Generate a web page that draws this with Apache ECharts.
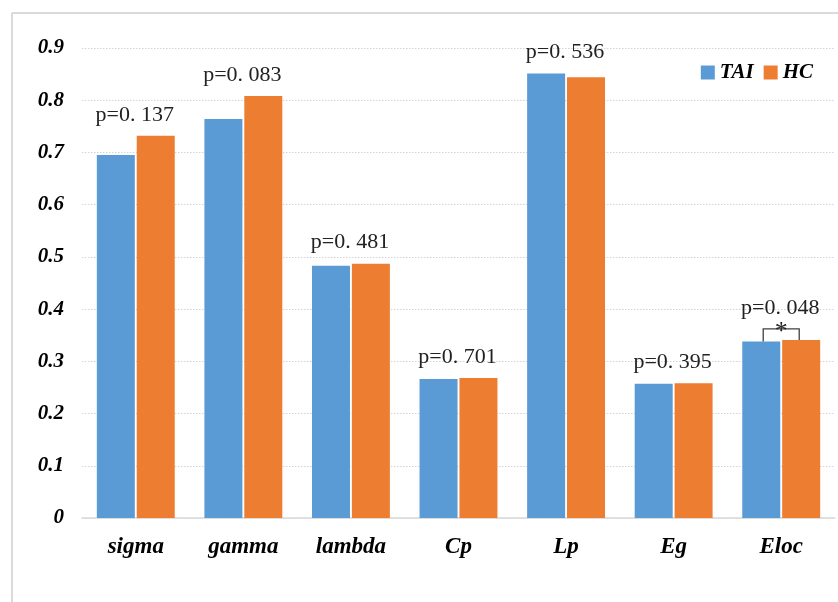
<!DOCTYPE html>
<html>
<head>
<meta charset="utf-8">
<script src="https://cdn.jsdelivr.net/npm/echarts@6/dist/echarts.min.js"></script>
<style>html,body{margin:0;padding:0;background:#fff;}#c{width:838px;height:602px;}</style>
</head>
<body>
<div id="c"></div>
<script>
const categories = ['sigma', 'gamma', 'lambda', 'Cp', 'Lp', 'Eg', 'Eloc'];
const seriesNames = ['TAI', 'HC'];
const taiValues = [0.695, 0.764, 0.483, 0.266, 0.851, 0.257, 0.338];
const hcValues = [0.732, 0.808, 0.487, 0.268, 0.844, 0.258, 0.341];
const pLabels = ['p=0. 137', 'p=0. 083', 'p=0. 481', 'p=0. 701', 'p=0. 536', 'p=0. 395', 'p=0. 048'];
const significance = ['', '', '', '', '', '', '*'];
const yTicks = [0, 0.1, 0.2, 0.3, 0.4, 0.5, 0.6, 0.7, 0.8, 0.9];

const annotationData = categories.map((c, i) => [i, taiValues[i], hcValues[i]]);

const chart = echarts.init(document.getElementById('c'), null, {renderer: 'canvas'});
const serifBI = {fontFamily: '"Liberation Serif", "Times New Roman", serif', fontWeight: 'bold', fontStyle: 'italic', color: '#000'};

chart.setOption({
  animation: false,
  backgroundColor: '#fff',
  graphic: [
    {type: 'line', shape: {x1: 12, y1: 13, x2: 838, y2: 13}, style: {stroke: '#dadada', lineWidth: 2}},
    {type: 'line', shape: {x1: 12, y1: 13, x2: 12, y2: 602}, style: {stroke: '#dadada', lineWidth: 2}}
  ],
  legend: {
    data: seriesNames,
    right: 20, top: 57,
    itemWidth: 14, itemHeight: 14, itemGap: 10,
    textStyle: Object.assign({fontSize: 21}, serifBI),
    icon: 'rect'
  },
  grid: {left: 82, right: 3, top: 48, bottom: 84, containLabel: false},
  xAxis: {
    type: 'category',
    data: categories,
    axisTick: {show: false},
    axisLine: {lineStyle: {color: '#d9d9d9', width: 1.5}},
    axisLabel: Object.assign({fontSize: 23, margin: 18}, serifBI)
  },
  yAxis: {
    type: 'value',
    min: yTicks[0], max: yTicks[yTicks.length - 1], interval: 0.1,
    axisLine: {show: false},
    axisTick: {show: false},
    splitLine: {lineStyle: {color: '#d4d4d4', type: [1.5, 1.5], width: 1}},
    axisLabel: Object.assign({fontSize: 21, margin: 18, formatter: v => String(Math.round(v * 10) / 10)}, serifBI)
  },
  series: [
    {name: seriesNames[0], type: 'bar', data: taiValues, barWidth: 38, barGap: '5%',
     itemStyle: {color: '#5B9BD5'}},
    {name: seriesNames[1], type: 'bar', data: hcValues, barWidth: 38, barGap: '5%',
     itemStyle: {color: '#ED7D31'}},
    {
      type: 'custom', silent: true, z: 10,
      data: annotationData,
      renderItem: function (params, api) {
        const idx = api.value(0);
        const a = api.value(1), b = api.value(2);
        const pa = api.coord([idx, a]);
        const pb = api.coord([idx, b]);
        const top = Math.min(pa[1], pb[1]);
        const cx = pa[0];
        const children = [];
        let labelY = top - 21;
        if (significance[idx]) {
          const lineY = top - 11;
          const xl = cx - 18, xr = cx + 18;
          children.push({type: 'polyline', shape: {points: [[xl, pa[1]], [xl, lineY], [xr, lineY], [xr, pb[1]]]},
            style: {stroke: '#404040', lineWidth: 1.3, fill: null}});
          children.push({type: 'text', style: {text: significance[idx], x: cx, y: lineY + 3, align: 'center', verticalAlign: 'middle',
            font: '26px "Liberation Serif", serif', fill: '#222'}});
          labelY = lineY - 21;
        }
        children.push({type: 'text', style: {text: pLabels[idx], x: cx - 1, y: labelY, align: 'center', verticalAlign: 'middle',
          font: '22px "Liberation Serif", serif', fill: '#222'}});
        return {type: 'group', children: children};
      }
    }
  ]
});
</script>
</body>
</html>
